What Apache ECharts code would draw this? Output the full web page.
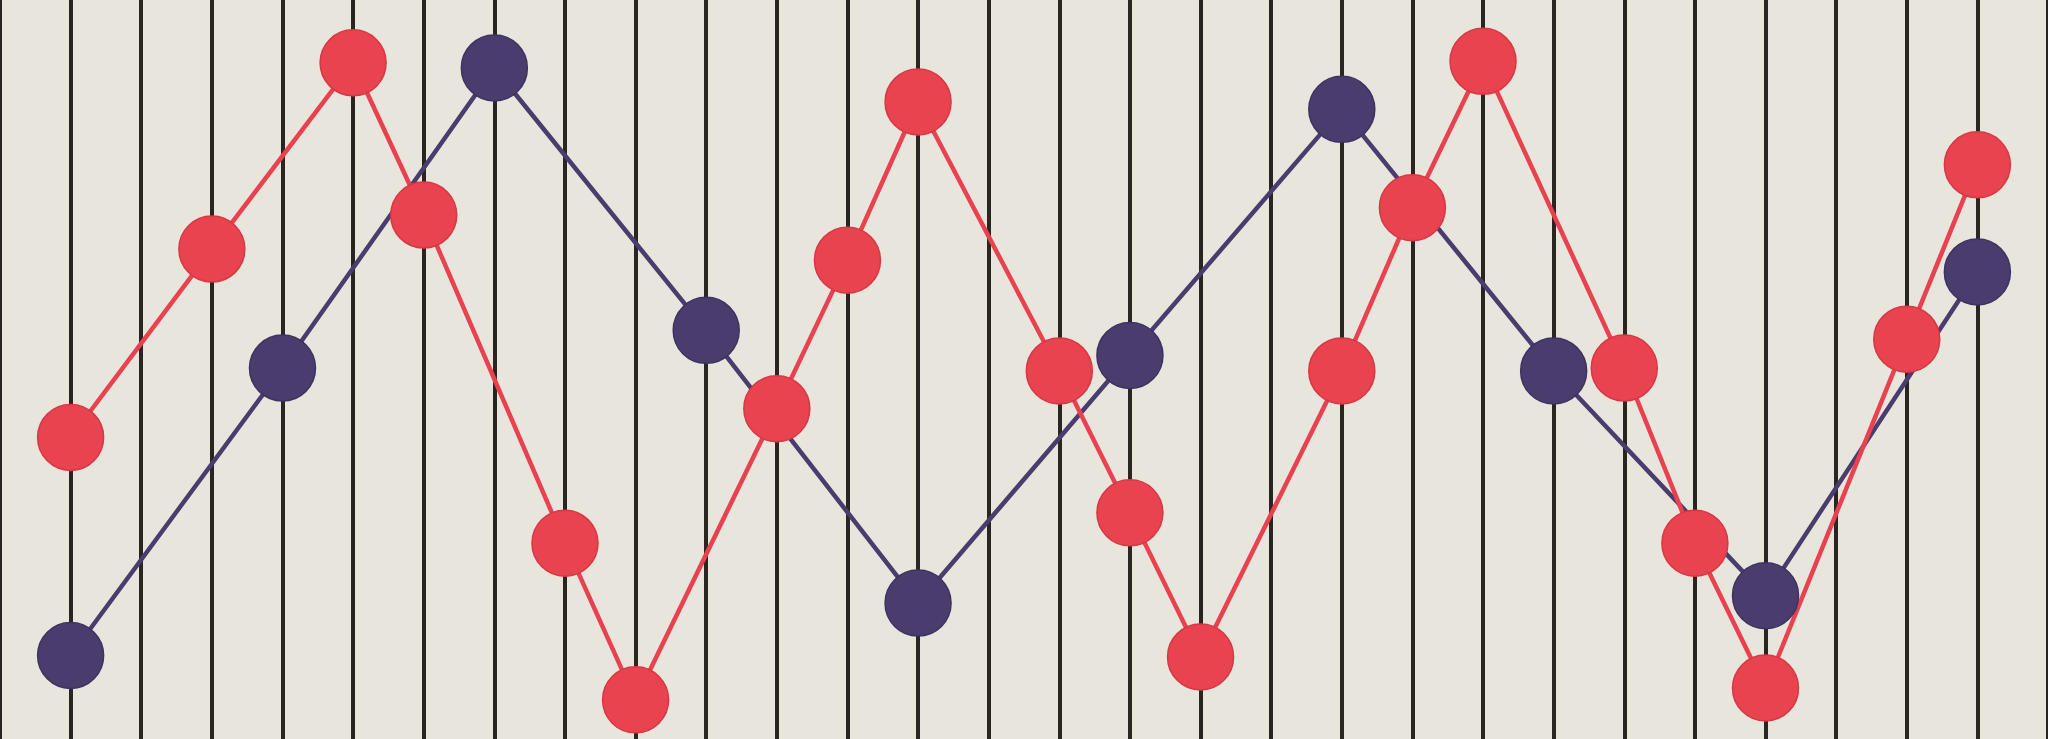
<!DOCTYPE html>
<html>
<head>
<meta charset="utf-8">
<script src="https://cdn.jsdelivr.net/npm/echarts@6/dist/echarts.min.js"></script>
<style>
html,body{margin:0;padding:0;background:#e8e5dd;}
#chart{width:2048px;height:739px;}
</style>
</head>
<body>
<div id="chart"></div>
<script>
// Positions along the ruled lines (index of the vertical line)
const purpleX = [0, 3, 6, 9, 12, 15, 18, 21, 24, 27];
const purpleY = [11.3, 50.2, 90.8, 55.3, 18.4, 51.9, 85.2, 49.8, 19.4, 63.2];

const redX = [0, 2, 4, 5, 7, 8, 10, 11, 12, 14, 15, 16, 18, 19, 20, 22, 23, 24, 26, 27];
const redY = [40.8, 66.3, 91.5, 70.9, 26.5, 5.3, 44.7, 64.8, 86.2, 49.8, 30.6, 11.1, 49.8, 71.9, 91.7, 50.2, 26.5, 6.9, 54.1, 77.7];

const purpleData = purpleX.map((x, i) => [x, purpleY[i]]);
const redData = redX.map((x, i) => [x, redY[i]]);

const chart = echarts.init(document.getElementById('chart'), null, {renderer: 'canvas'});
chart.setOption({
  backgroundColor: '#e8e5dd',
  animation: false,
  grid: {left: 0, right: 0, top: 0, bottom: 0},
  xAxis: {
    type: 'value', min: -1, max: 28, interval: 1,
    axisLine: {show: false}, axisTick: {show: false}, axisLabel: {show: false},
    splitLine: {show: true, lineStyle: {color: '#2a2520', width: 4}}
  },
  yAxis: {
    type: 'value', min: 0, max: 100,
    axisLine: {show: false}, axisTick: {show: false}, axisLabel: {show: false},
    splitLine: {show: false}
  },
  series: [
    {
      name: 'purple', type: 'line', data: purpleData,
      symbol: 'circle', symbolSize: 66,
      lineStyle: {color: '#4b3c6e', width: 4.5},
      itemStyle: {color: '#4b3c6e', borderColor: '#3f3260', borderWidth: 1.5}
    },
    {
      name: 'red', type: 'line', data: redData,
      symbol: 'circle', symbolSize: 66,
      lineStyle: {color: '#e8414f', width: 4.5},
      itemStyle: {color: '#e8434f', borderColor: '#d63844', borderWidth: 1.5}
    }
  ]
});
</script>
</body>
</html>
